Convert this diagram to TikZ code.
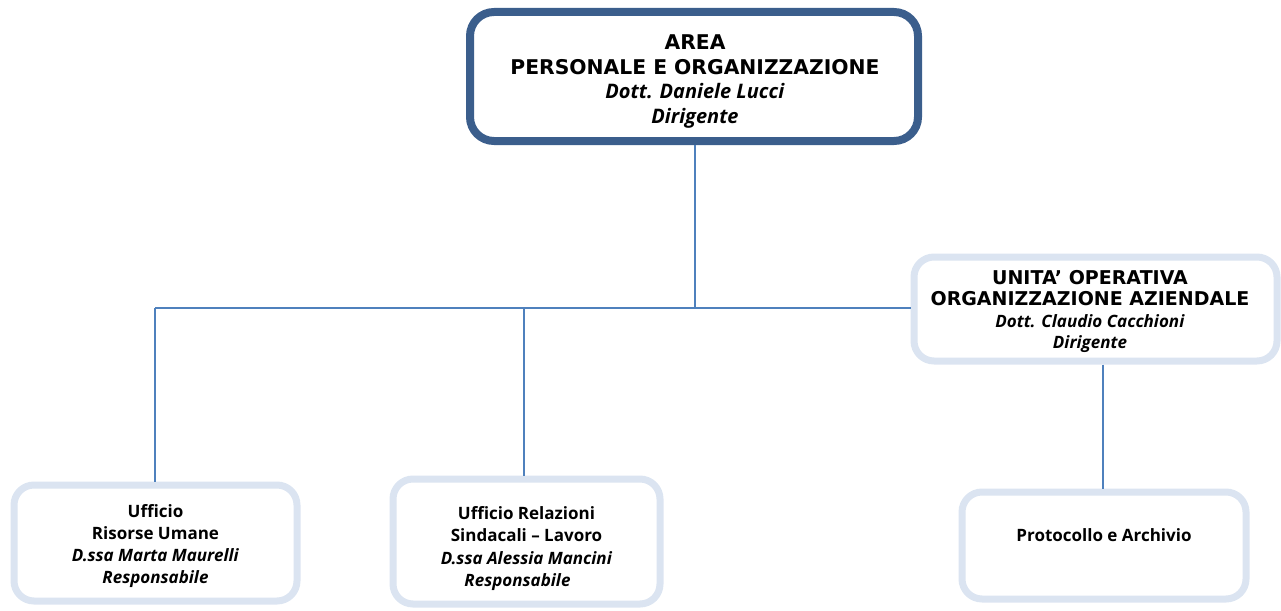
\documentclass[tikz,border=0pt]{standalone}
\usepackage{fontspec}
\setmainfont{Open Sans}
\newfontfamily\capf{DejaVu Sans}
\definecolor{darkb}{RGB}{59,94,140}
\definecolor{lightb}{RGB}{219,228,241}
\definecolor{conn}{RGB}{79,129,189}
\begin{document}
\begin{tikzpicture}[x=1pt,y=-1pt,
  topbox/.style={draw=darkb,line width=8pt,rounded corners=24pt,fill=white,inner sep=0pt},
  subbox/.style={draw=lightb,line width=7pt,rounded corners=20pt,fill=white,inner sep=0pt},
  toptxt/.style={align=center,inner sep=0pt,font=\fontsize{20}{24.4}\selectfont\bfseries},
  subtxt/.style={align=center,inner sep=0pt,font=\fontsize{17}{22}\selectfont\bfseries},
  link/.style={draw=conn,line width=2pt}]
\useasboundingbox (0,0) rectangle (1281,610);
% boxes
\node[topbox,minimum width=448pt,minimum height=129pt] (area) at (694,76.5) {};
\node[subbox,minimum width=363pt,minimum height=104pt] (uo) at (1095.5,309) {};
\node[subbox,minimum width=283pt,minimum height=116pt] (ru) at (155.5,543) {};
\node[subbox,minimum width=267pt,minimum height=125pt] (rel) at (526.5,541.5) {};
\node[subbox,minimum width=284pt,minimum height=107pt] (prot) at (1104,545.5) {};
% texts
\node[toptxt] (areat) at (695,81.5)
  {{\capf\fontsize{20.3}{24.4}\selectfont AREA}\\{\capf\fontsize{20.3}{24.4}\selectfont PERSONALE E ORGANIZZAZIONE}\\\textit{Dott. Daniele Lucci}\\\textit{Dirigente}};
\node[subtxt,font=\fontsize{17}{21.3}\selectfont\bfseries] (uot) at (1090,311.5)
  {{\capf\fontsize{19}{21.3}\selectfont UNITA’ OPERATIVA}\\{\capf\fontsize{19}{21.3}\selectfont ORGANIZZAZIONE AZIENDALE}\\\textit{Dott. Claudio Cacchioni}\\\textit{Dirigente}};
\node[subtxt] (rut) at (155.5,546)
  {Ufficio\\Risorse Umane\\\textit{D.ssa Marta Maurelli}\\\textit{Responsabile}};
\node[subtxt,font=\fontsize{17}{22.3}\selectfont\bfseries] (relt) at (526.5,548.5)
  {Ufficio Relazioni\\Sindacali – Lavoro\\\textit{D.ssa Alessia Mancini}\\\textit{Responsabile}\hspace*{18pt}};
\node[subtxt] (prott) at (1104,535.5) {Protocollo e Archivio};
% connectors
\coordinate (j) at (695,308);
\coordinate (l) at (155,308);
\coordinate (m) at (524,308);
\draw[link] (area.south -| j) -- (j);
\draw[link] (l) -- (uo.west |- l);
\draw[link] (l) -- (ru.north -| l);
\draw[link] (m) -- (rel.north -| m);
\draw[link] ([xshift=-1pt]uo.south -| prot.north) -- ([xshift=-1pt]prot.north);
\end{tikzpicture}
\end{document}
